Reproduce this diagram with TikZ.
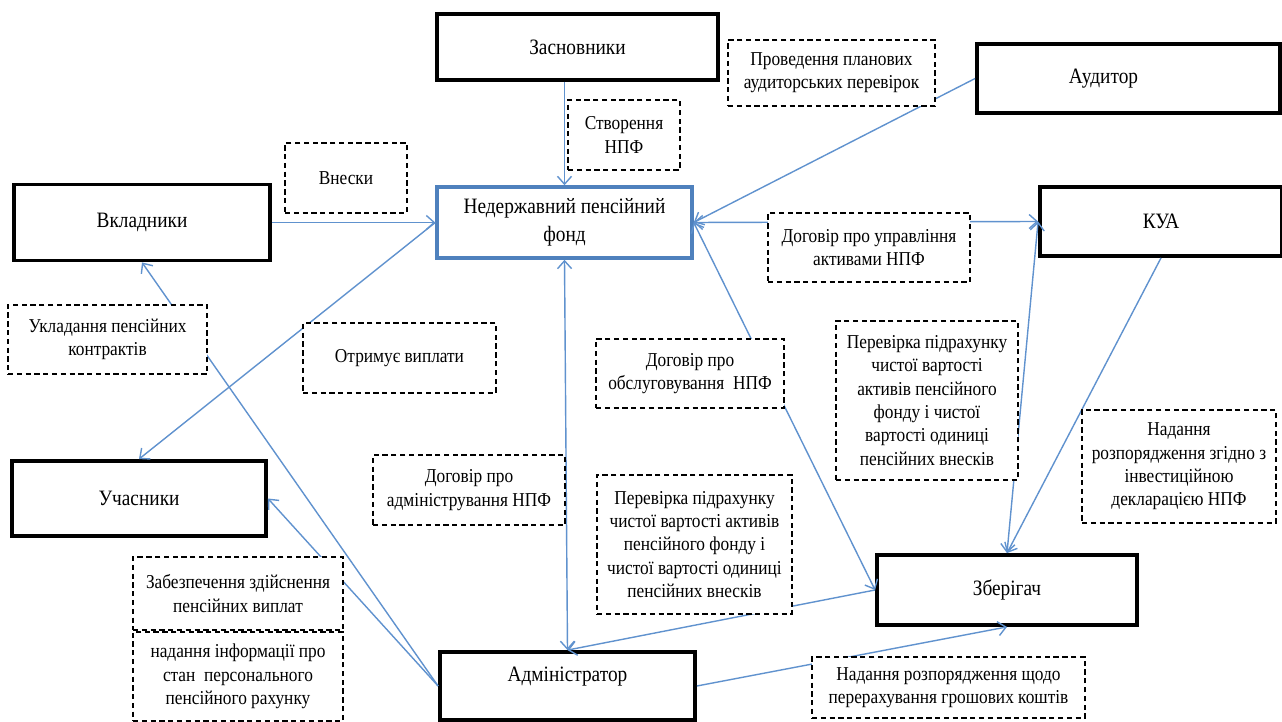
\documentclass[tikz,border=0pt]{standalone}
\usepackage{fontspec}
\setmainfont{Liberation Serif}[FakeStretch=0.88]
\usepackage{tikz}
\usetikzlibrary{arrows.meta,positioning}
\definecolor{fundblue}{RGB}{79,129,189}
\definecolor{linkblue}{RGB}{96,146,206}

\begin{document}
\begin{tikzpicture}[x=0.02cm,y=-0.02cm,>={Straight Barb[length=4.5pt,width=8pt]}]
    \tikzstyle{actor}=[draw,rectangle,line width=2.2pt,inner sep=0pt,font=\fontsize{12.5}{16}\selectfont]
    \tikzstyle{fund}=[actor,draw=fundblue,line width=2pt,align=center]
    \tikzstyle{note}=[draw,rectangle,line width=0.7pt,dash pattern=on 3pt off 2pt,fill=white,inner sep=0pt,font=\fontsize{11.2}{13.3}\selectfont,align=center]
    \tikzstyle{link}=[linkblue,line width=0.8pt]

    \useasboundingbox (0,0) rectangle (1282,722);

    % Participants
    \node[actor,minimum width=5.62cm,minimum height=1.32cm] (zasn) at (577.5,47) {Засновники};
    \node[actor,minimum width=6.06cm,minimum height=1.38cm] (audit) at (1128.5,78.5) {\hspace*{-1cm}Аудитор};
    \node[actor,minimum width=5.12cm,minimum height=1.52cm] (vkl) at (142,222.5) {Вкладники};
    \node[fund,minimum width=5.1cm,minimum height=1.42cm] (npf) at (564.5,222.5) {Недержавний пенсійний\\фонд};
    \node[actor,minimum width=4.84cm,minimum height=1.38cm] (kua) at (1161,221.5) {КУА};
    \node[actor,minimum width=5.08cm,minimum height=1.5cm] (uch) at (139,498.5) {Учасники};
    \node[actor,minimum width=5.2cm,minimum height=1.4cm] (zber) at (1007,590) {Зберігач};
    \node[actor,minimum width=5.1cm,text height=0.58cm,text depth=0.78cm] (admin) at (567.5,686) {Адміністратор};

    % Connections
    \draw[link,->] (npf.north |- zasn.south) -- (npf.north);
    \draw[link,->] (audit.west) -- (npf.east);
    \draw[link,->] (vkl.east) -- (npf.west);
    \draw[link,<->] (npf.east) -- (kua.west);
    \draw[link,->] (admin.west) -- (vkl.south);
    \draw[link,->] (npf.west) -- (uch.north);
    \draw[link,->] (admin.west) -- (uch.east);
    \draw[link,<->] (npf.south) -- (admin.north);
    \draw[link,<->] (npf.east) -- (zber.west);
    \draw[link,->] (zber.west) -- (admin.north);
    \draw[link,->] (admin.east) -- (zber.south);
    \draw[link,->] (kua.south) -- (zber.north);
    \draw[link,<->] (zber.north) -- (kua.west);

    % Labels of the connections
    \node[note,minimum width=2.24cm,minimum height=1.4cm] (sozd) at (624,135) {Створення\\НПФ};
    \node[note,minimum width=4.14cm,minimum height=1.32cm] (prov) at (831.5,73) {Проведення планових\\аудиторських перевірок};
    \node[note,minimum width=2.44cm,minimum height=1.4cm] (vnes) at (346,178) {Внески};
    \node[note,minimum width=4.04cm,minimum height=1.38cm] (dogupr) at (869,247.5) {Договір про управління\\активами НПФ};
    \node[note,minimum width=3.98cm,minimum height=1.38cm] (uklad) at (107.5,339.5) {Укладання пенсійних\\контрактів};
    \node[note,minimum width=3.86cm,minimum height=1.4cm] (otrym) at (399.5,358) {Отримує виплати};
    \node[note,minimum width=3.76cm,minimum height=1.38cm] (dogobs) at (690,373.5) {Договір про\\обслуговування\ \ НПФ};
    \node[note,minimum width=3.64cm,minimum height=3.18cm] (perkua) at (927,400.5) {Перевірка підрахунку\\чистої вартості\\активів пенсійного\\фонду і чистої\\вартості одиниці\\пенсійних внесків};
    \node[note,minimum width=3.88cm,minimum height=2.26cm] (nadzg) at (1179,466.5) {Надання\\розпорядження згідно з\\інвестиційною\\декларацією НПФ};
    \node[note,minimum width=3.84cm,minimum height=1.4cm] (dogadm) at (469,490) {Договір про\\адміністрування НПФ};
    \node[note,minimum width=3.9cm,minimum height=2.78cm] (perzb) at (694.5,544.5) {Перевірка підрахунку\\чистої вартості активів\\пенсійного фонду і\\чистої вартості одиниці\\пенсійних внесків};
    \node[note,minimum width=4.2cm,minimum height=1.46cm] (zabez) at (238,593.5) {Забезпечення здійснення\\пенсійних виплат};
    \node[note,minimum width=4.2cm,minimum height=1.78cm] (nadinf) at (238,676.5) {надання інформації про\\стан\ \ персонального\\пенсійного рахунку};
    \node[note,minimum width=5.46cm,minimum height=1.22cm] (nadper) at (948.5,687.5) {Надання розпорядження щодо\\перерахування грошових коштів};
\end{tikzpicture}
\end{document}
